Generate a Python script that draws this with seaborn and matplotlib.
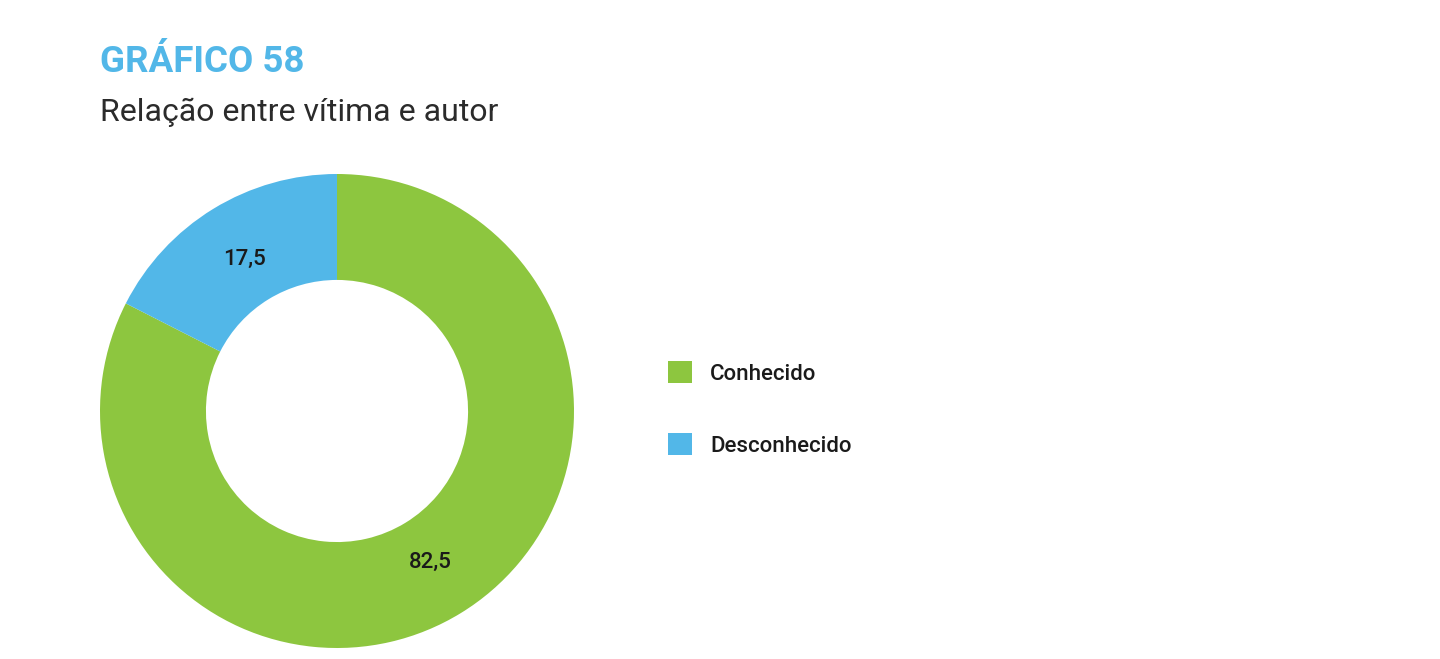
import numpy as np
import matplotlib
matplotlib.use("Agg")
import matplotlib.pyplot as plt
import seaborn as sns

# -------- data --------
categories = ["Conhecido", "Desconhecido"]
values = [82.5, 17.5]
colors = ["#8DC63F", "#52B7E8"]

title = "GRÁFICO 58"
subtitle = "Relação entre vítima e autor"

sns.set_theme(style="white")
plt.rcParams["font.family"] = ["Roboto", "DejaVu Sans"]

fig = plt.figure(figsize=(14.4, 6.59), dpi=100)
fig.patch.set_facecolor("white")

# donut: centre at (337, 411) px, outer radius ~237 px
cx, cy, r = 337, 659 - 411, 237
ax = fig.add_axes([(cx - r) / 1440, (cy - r) / 659, 2 * r / 1440, 2 * r / 659])

wedges, texts, autotexts = ax.pie(
    values,
    colors=colors,
    startangle=90,
    counterclock=False,
    radius=1,
    pctdistance=0.75,
    autopct=lambda p: f"{p:.1f}".replace(".", ","),
    wedgeprops=dict(width=0.447, edgecolor="none"),
    textprops=dict(fontsize=16, color="#1a1a1a", fontweight="medium"),
)
ax.set_xlim(-1, 1)
ax.set_ylim(-1, 1)
ax.set_aspect("equal")
ax.axis("off")

# titles
fig.text(100 / 1440, 1 - 72 / 659, title, fontsize=26.5, fontweight="bold",
         color="#52B7E8", ha="left", va="baseline")
fig.text(100 / 1440, 1 - 121 / 659, subtitle, fontsize=23,
         color="#2b2b2b", ha="left", va="baseline")

# legend
leg = fig.legend(
    wedges, categories,
    loc="center left", bbox_to_anchor=(668 / 1440, 1 - 409 / 659),
    frameon=False, borderpad=0, borderaxespad=0,
    handlelength=1.1, handleheight=1.1, handletextpad=0.8,
    labelspacing=2.2,
    prop=dict(size=16, weight="medium"),
)
for t in leg.get_texts():
    t.set_color("#1a1a1a")

fig.savefig("out.png", dpi=100, facecolor="white")
